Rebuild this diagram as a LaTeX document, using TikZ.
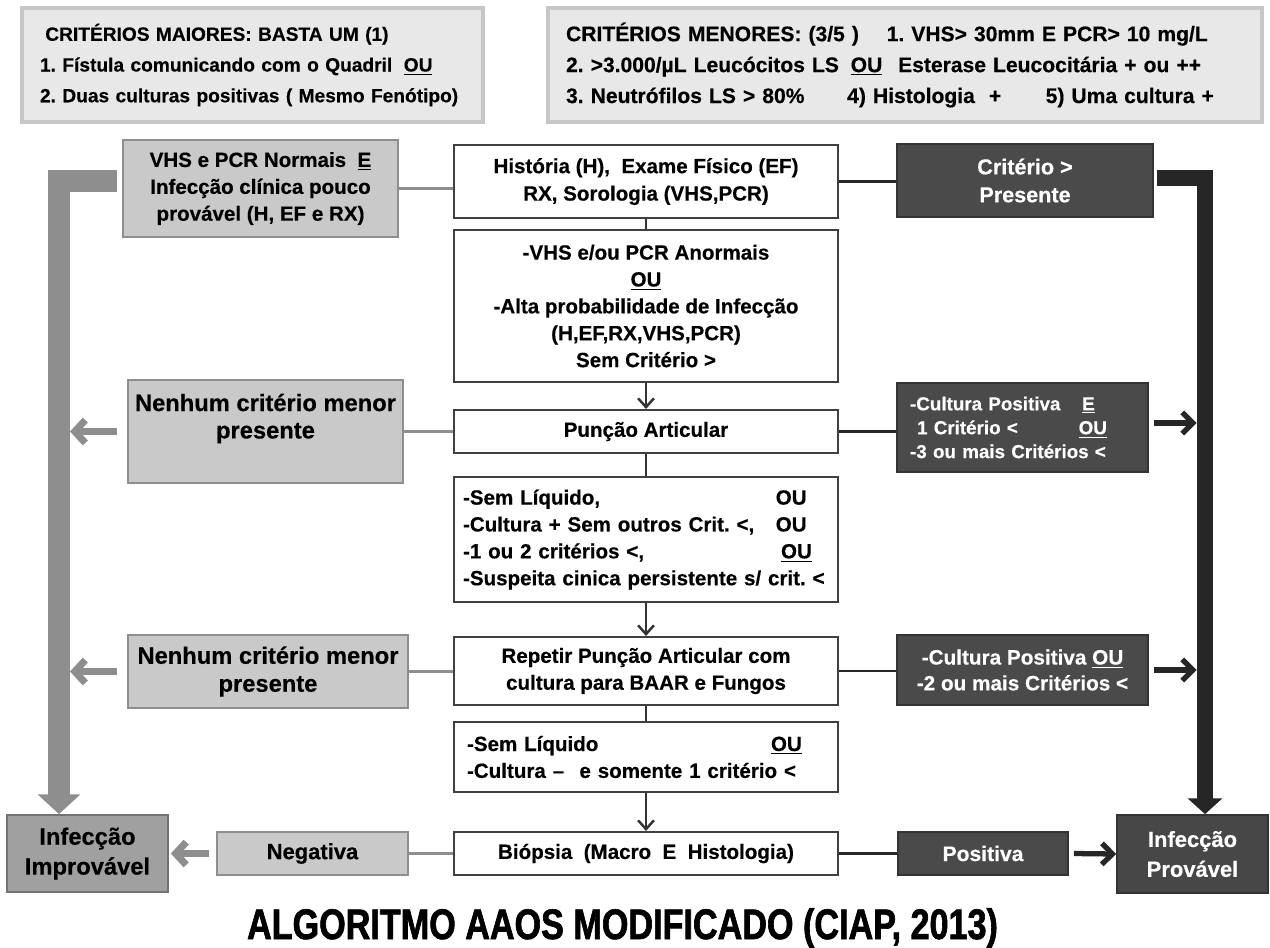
\documentclass[tikz,border=0pt]{standalone}
\usepackage{fontspec}
\setmainfont{Liberation Sans}[FakeBold=0.4]
\newfontfamily\titlefont[FakeStretch=0.8,FakeBold=1.5]{Liberation Sans}
\usetikzlibrary{arrows.meta,shadows,calc}
\newcommand\fsz[2]{\fontsize{#1}{#2}\selectfont}
\definecolor{lgfill}{HTML}{C9C9C9}
\definecolor{lgdraw}{HTML}{8E8E8E}
\definecolor{impfill}{HTML}{A0A0A0}
\definecolor{dkfill}{HTML}{4A4A4A}
\definecolor{dkdraw}{HTML}{333333}
\definecolor{gthickc}{HTML}{8E8E8E}
\definecolor{bthickc}{HTML}{262626}
\definecolor{topfill}{HTML}{E8E8E8}
\tikzset{
  base/.style={rectangle, inner sep=0pt, align=center},
  topbox/.style={base, draw=black!22, line width=2pt, fill=topfill,
    drop shadow={shadow xshift=1pt, shadow yshift=-1pt, opacity=0.3}},
  cbox/.style={base, draw=black!75, line width=1.2pt, fill=white, minimum width=7.68cm},
  lbox/.style={base, draw=lgdraw, line width=1pt, fill=lgfill},
  impbox/.style={base, draw=black!55, line width=1pt, fill=impfill},
  dbox/.style={base, draw=dkdraw, line width=1pt, fill=dkfill, text=white},
  gline/.style={draw=lgdraw, line width=1.7pt},
  bline/.style={draw=black!85, line width=1.2pt},
  cline/.style={draw=black!80, line width=1.4pt},
  carr/.style={cline, -{Straight Barb[length=5pt,width=9pt]}},
  garr/.style={draw=gthickc, line width=4pt, -{Straight Barb[length=6pt,width=13pt]}},
  barr/.style={draw=bthickc, line width=3pt, -{Straight Barb[length=6pt,width=12pt]}},
  gthick/.style={draw=gthickc, line width=12.5pt, line join=miter,
    -{Triangle[width=23.8pt,length=11.3pt]}},
  bthick/.style={draw=bthickc, line width=9.6pt, line join=miter,
    -{Triangle[width=19.3pt,length=9pt]}},
}
\begin{document}
\frenchspacing
\begin{tikzpicture}[x=0.02cm, y=-0.02cm]
\fill[white] (0,0) rectangle (1270,947);
\useasboundingbox (0,0) rectangle (1270,947);

% top criteria boxes
\node[topbox, minimum width=9.22cm, minimum height=2.28cm, text width=8.5cm, align=left,
  font={\bfseries\fsz{10.9}{17.5}}] (TL) at (252.5,65)
  {\hspace*{3pt}CRITÉRIOS MAIORES: BASTA UM (1)\\
   \makebox[207pt][l]{1. Fístula comunicando com o Quadril}\underline{OU}\\
   2. Duas culturas positivas ( Mesmo Fenótipo)};
\node[topbox, minimum width=14.28cm, minimum height=2.28cm, text width=13.56cm, align=left,
  font={\bfseries\fsz{12}{17.6}}] (TR) at (905,65)
  {\makebox[182.5pt][l]{CRITÉRIOS MENORES: (3/5 )}1. VHS> 30mm E PCR> 10 mg/L\\
   \makebox[162pt][l]{2. >3.000/µL Leucócitos LS}\underline{OU}\hspace{5pt} Esterase Leucocitária + ou ++\\
   \makebox[160pt][l]{3. Neutrófilos LS > 80\%}\makebox[113pt][l]{4) Histologia \ +}5) Uma cultura +};

% central column
\node[cbox, minimum height=1.46cm, font={\bfseries\fsz{11.7}{15.6}}] (C1) at (646,181.5)
  {História (H), \ Exame Físico (EF)\\RX, Sorologia (VHS,PCR)};
\node[cbox, minimum height=3.04cm, font={\bfseries\fsz{11.7}{15.3}}] (C2) at (646,306)
  {-VHS e/ou PCR Anormais\\\underline{OU}\\-Alta probabilidade de Infecção\\(H,EF,RX,VHS,PCR)\\Sem Critério >};
\node[cbox, minimum height=0.86cm, font={\bfseries\fsz{11.7}{15.3}}] (C3) at (646,431.5)
  {Punção Articular};
\node[cbox, minimum height=2.5cm, text width=7.32cm, align=left, font={\bfseries\fsz{11.7}{15.3}}] (C4) at (646,539.5)
  {\makebox[178pt][l]{-Sem Líquido,}OU\\
   \makebox[178pt][l]{-Cultura + Sem outros Crit. <,}OU\\
   \makebox[181pt][l]{-1 ou 2 critérios <,}\underline{OU}\\
   -Suspeita cinica persistente s/ crit. <};
\node[cbox, minimum height=1.36cm, font={\bfseries\fsz{11.7}{15.3}}] (C5) at (646,671)
  {Repetir Punção Articular com\\cultura para BAAR e Fungos};
\node[cbox, minimum height=1.4cm, text width=7.16cm, align=left, font={\bfseries\fsz{11.7}{15.3}}] (C6) at (646,757)
  {\makebox[173pt][l]{-Sem Líquido}\underline{OU}\\
   \makebox[64pt][l]{-Cultura –}e somente 1 critério <};
\node[cbox, minimum height=0.86cm, font={\bfseries\fsz{11.7}{15.3}}] (C7) at (646,853.5)
  {Biópsia \ (Macro \ E \ Histologia)};

% left column
\node[lbox, minimum width=5.5cm, minimum height=1.94cm, font={\bfseries\fsz{11.7}{15.3}}] (L1) at (260.5,188.5)
  {VHS e PCR Normais \ \underline{E}\\Infecção clínica pouco\\provável (H, EF e RX)};
\node[lbox, minimum width=5.5cm, minimum height=2.06cm] (L2) at (265.5,431.5) {};
\node[base, font={\bfseries\fsz{13.5}{15.6}}] (L2t) at (265.5,418.5) {Nenhum critério menor\\presente};
\node[lbox, minimum width=5.6cm, minimum height=1.46cm, font={\bfseries\fsz{13.5}{15.9}}] (L3) at (268,671.5)
  {Nenhum critério menor\\presente};
\node[impbox, minimum width=3.22cm, minimum height=1.54cm, font={\bfseries\fsz{13.5}{17}}] (Imp) at (87.5,853.5)
  {Infecção\\Improvável};
\node[lbox, minimum width=3.82cm, minimum height=0.86cm, font={\bfseries\fsz{12.5}{15}}] (Neg) at (312.5,853.5)
  {Negativa};

% right column
\node[dbox, minimum width=5.12cm, minimum height=1.46cm, font={\bfseries\fsz{12.3}{15.9}}] (R1) at (1025,180.5)
  {Critério >\\Presente};
\node[dbox, minimum width=5.02cm, minimum height=1.78cm, text width=4.5cm, align=left, font={\bfseries\fsz{10.7}{13.6}}] (R2) at (1022.5,427.5)
  {\makebox[98pt][l]{-Cultura Positiva}\underline{E}\\
   \makebox[96pt][l]{\hspace*{4pt}1 Critério <}\underline{OU}\\
   -3 ou mais Critérios <};
\node[dbox, minimum width=5.02cm, minimum height=1.4cm, font={\bfseries\fsz{11.8}{14.7}}] (R3) at (1022.5,670)
  {-Cultura Positiva \underline{OU}\\-2 ou mais Critérios <};
\node[dbox, minimum width=3.4cm, minimum height=0.86cm, font={\bfseries\fsz{12}{15}}] (Pos) at (983,853.5)
  {Positiva};
\node[dbox, fill=black!72, minimum width=3.02cm, minimum height=1.56cm, font={\bfseries\fsz{12.5}{17}}] (Prov) at (1192.5,854)
  {Infecção\\Provável};

% title
\node[anchor=base, font={\titlefont\bfseries\fsz{24.3}{28}}] (title) at (622.5,939)
  {ALGORITMO AAOS MODIFICADO (CIAP, 2013)};

% helper coordinates for thick rails
\coordinate (gx) at (59,0);
\coordinate (gxr) at (70,0);
\coordinate (bx) at (1205,0);
\coordinate (bxl) at (1196.5,0);
\coordinate (g1) at ([xshift=-0.1cm,yshift=0.15cm]L1.west);
\coordinate (b1) at ([xshift=0.06cm,yshift=0.05cm]R1.east);

% thick rails
\draw[gthick] (g1) -- (g1 -| gx) -- (gx |- Imp.north);
\draw[bthick] (b1) -- (b1 -| bx) -- (bx |- Prov.north);

% central connectors
\draw[cline] (C1.south) -- (C2.north);
\draw[carr] (C2.south) -- (C3.north);
\draw[cline] (C3.south) -- (C4.north);
\draw[carr] (C4.south) -- (C5.north);
\draw[cline] (C5.south) -- (C6.north);
\draw[carr] (C6.south) -- (C7.north);

% left connectors
\draw[gline] (L1.east) -- (L1.east -| C1.west);
\draw[gline] (C3.west) -- (C3.west -| L2.east);
\draw[gline] (C5.west) -- (C5.west -| L3.east);
\draw[gline] (C7.west) -- (C7.west -| Neg.east);
\draw[garr] ([xshift=-0.2cm]L2.west) -- (L2.west -| gxr);
\draw[garr] ([xshift=-0.2cm]L3.west) -- (L3.west -| gxr);
\draw[garr] ([xshift=-0.14cm]Neg.west) -- ([xshift=0.04cm]Imp.east);

% right connectors
\draw[bline] (C1.east) -- (C1.east -| R1.west);
\draw[bline] (C3.east) -- (C3.east -| R2.west);
\draw[bline] (C5.east) -- (C5.east -| R3.west);
\draw[bline] (C7.east) -- (C7.east -| Pos.west);
\coordinate (r2a) at ([xshift=0.1cm,yshift=0.09cm]R2.east);
\draw[barr] (r2a) -- (r2a -| bxl);
\draw[barr] ([xshift=0.1cm]R3.east) -- (R3.east -| bxl);
\draw[barr] ([xshift=0.1cm]Pos.east) -- (Prov.west);
\end{tikzpicture}
\end{document}
